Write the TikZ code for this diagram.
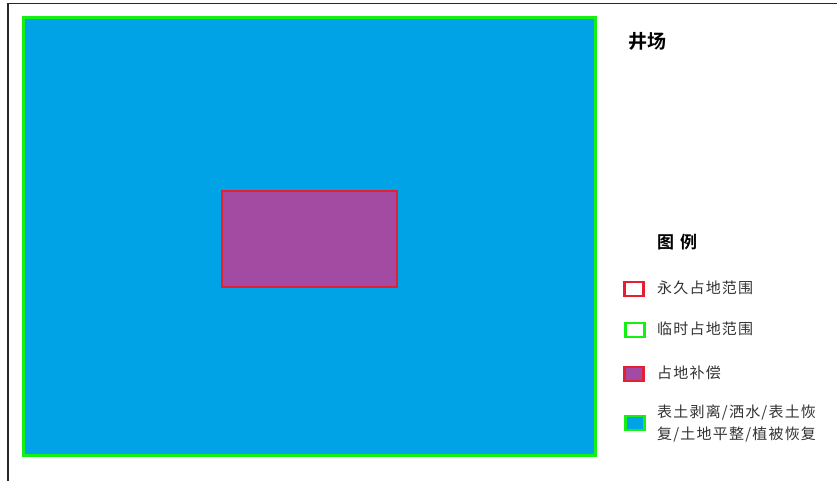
\documentclass[tikz,border=0pt]{standalone}
\usepackage{fontspec}
\newfontfamily\cjk[LetterSpace=8]{Noto Sans CJK SC}
\newfontfamily\cjkb[BoldFont={Noto Sans CJK SC Bold}]{Noto Sans CJK SC}
\definecolor{fieldblue}{RGB}{0,163,230}
\definecolor{bordergreen}{RGB}{20,240,20}
\definecolor{zonepurple}{RGB}{163,74,163}
\definecolor{zonered}{RGB}{230,30,50}
\begin{document}
\begin{tikzpicture}[x=1pt,y=-1pt,
  field/.style={draw=bordergreen,fill=fieldblue,line width=2.5pt},
  zone/.style={draw=zonered,fill=zonepurple,line width=2pt},
  legbox/.style={minimum width=19pt,minimum height=14pt,inner sep=0pt,line width=2.5pt},
  legtext/.style={anchor=west,inner sep=0pt,font=\fontsize{15}{22}\cjk,align=left,text=black!80},
  heading/.style={anchor=west,inner sep=0pt,font=\fontsize{19}{20}\cjkb\bfseries}]
\useasboundingbox (0,0) rectangle (837,481);
\fill[white] (0,0) rectangle (837,481);
\draw[line width=1.5pt,black!85] (8,481) -- (8,3.5) -- (837,3.5);
\node[field,minimum width=572pt,minimum height=438pt,inner sep=0pt] (wellsite) at (309.5,236.5) {};
\node[zone,minimum width=175pt,minimum height=96pt,inner sep=0pt] (perm) at (309,238.5) {};
\node[heading] (title) at (628,41) {井场};
\node[heading,font=\fontsize{17}{20}\cjkb\bfseries] (legtitle) at (657,242) {图\hspace{6pt}例};
\node[legbox,draw=zonered,fill=white] (b1) at (634,289) {};
\node[legtext] (t1) at (657,288) {永久占地范围};
\node[legbox,draw=bordergreen,fill=white] (b2) at (635,330) {};
\node[legtext] (t2) at (657,329) {临时占地范围};
\node[legbox,draw=zonered,fill=zonepurple] (b3) at (634,374) {};
\node[legtext] (t3) at (657,373) {占地补偿};
\node[legbox,draw=bordergreen,fill=fieldblue] (b4) at (635,423) {};
\node[legtext] (t4) at (657,423) {表土剥离/洒水/表土恢\\复/土地平整/植被恢复};
\end{tikzpicture}
\end{document}
